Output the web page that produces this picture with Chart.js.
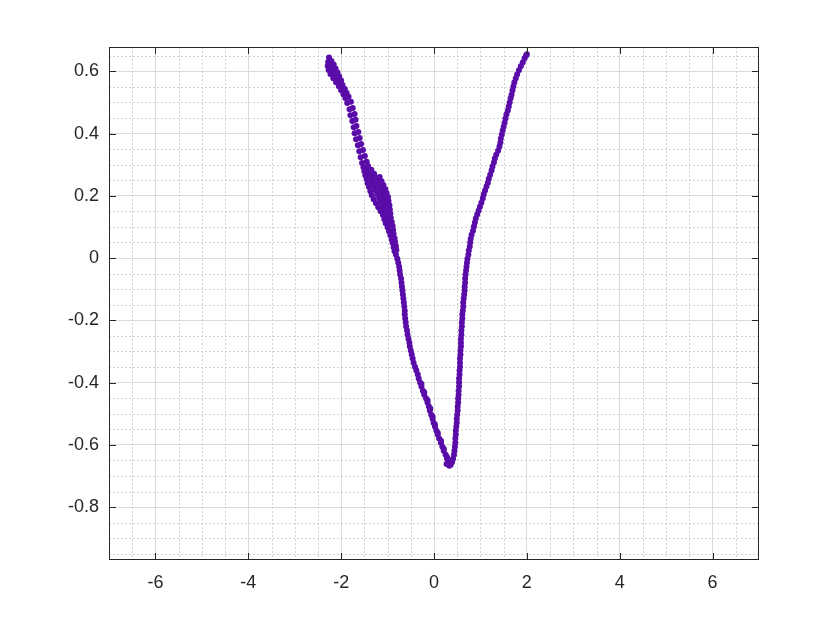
<!DOCTYPE html>
<html>
<head>
<meta charset="utf-8">
<script src="https://cdn.jsdelivr.net/npm/chart.js@4.4.1/dist/chart.umd.min.js"></script>
<style>
  html, body { margin: 0; padding: 0; background: #fff; }
  canvas { display: block; }
</style>
</head>
<body>
<canvas id="chart" width="840" height="630"></canvas>
<script>
const xRange = [-7, 7];
const yRange = [-0.97, 0.678];
const xTicks = [-6, -4, -2, 0, 2, 4, 6];
const xTickLabels = ["-6", "-4", "-2", "0", "2", "4", "6"];
const yTicks = [-0.8, -0.6, -0.4, -0.2, 0, 0.2, 0.4, 0.6];
const yTickLabels = ["-0.8", "-0.6", "-0.4", "-0.2", "0", "0.2", "0.4", "0.6"];

// trace: upper-left cluster, down the left branch,
// through the minimum, then up the right branch
const xValues = [
  -2.26,
  -2.28, -2.21,
  -2.29, -2.23, -2.16,
  -2.27, -2.19, -2.12,
  -2.23, -2.15, -2.08,
  -2.17, -2.10, -2.04,
  -2.11, -2.05, -2.00,
  -2.05, -1.97,
  -2.00, -1.92,
  -1.95, -1.88,
  -1.91, -1.84,
  -1.87, -1.79,
  -1.82, -1.75,
  -1.80, -1.71,
  -1.76, -1.69,
  -1.73, -1.67,
  -1.71, -1.63,
  -1.68, -1.60,
  -1.64, -1.57,
  -1.61, -1.53,
  -1.58, -1.49,
  -1.55, -1.45,
  -1.52, -1.42,
  -1.50, -1.42, -1.35,
  -1.48, -1.38, -1.29,
  -1.45, -1.35, -1.24, -1.17,
  -1.43, -1.32, -1.21, -1.13,
  -1.40, -1.29, -1.18, -1.09,
  -1.37, -1.26, -1.15, -1.05,
  -1.34, -1.22, -1.11, -1.02,
  -1.30, -1.18, -1.08, -0.99,
  -1.25, -1.14, -1.04, -0.98,
  -1.20, -1.10, -1.01, -0.96,
  -1.15, -1.06, -0.95,
  -1.10, -1.02, -0.94,
  -1.07, -1.00, -0.93,
  -1.04, -0.97, -0.91,
  -1.00, -0.89,
  -0.97, -0.88,
  -0.94, -0.87,
  -0.91, -0.85,
  -0.89, -0.84,
  -0.87, -0.82,
  -0.85, -0.81,
  -0.82, -0.79, -0.77, -0.75, -0.74,
  -0.73, -0.71, -0.70, -0.69, -0.68,
  -0.67, -0.66, -0.65, -0.64, -0.63,
  -0.63, -0.62, -0.61, -0.60, -0.58,
  -0.57, -0.55, -0.53, -0.52, -0.50,
  -0.48, -0.46, -0.44, -0.41, -0.38,
  -0.35, -0.33, -0.30, -0.27, -0.24,
  -0.21, -0.17, -0.14, -0.11, -0.09,
  -0.06, -0.03, -0.01, 0.02, 0.05,
  0.08, 0.11, 0.15, 0.18, 0.21,
  0.25, 0.28, 0.31,
  -0.27, -0.21, -0.14, -0.08, -0.03, 0.02, 0.08, 0.15, 0.21, 0.28,
  0.27, 0.33, 0.36,
  0.39, 0.41, 0.43, 0.44, 0.45,
  0.46, 0.46, 0.47, 0.47, 0.48,
  0.49, 0.49, 0.50, 0.51, 0.51,
  0.52, 0.52, 0.53, 0.53, 0.54,
  0.54, 0.54, 0.55, 0.55, 0.56,
  0.56, 0.56, 0.57, 0.57, 0.58,
  0.58, 0.58, 0.59, 0.59, 0.60,
  0.60, 0.61, 0.61, 0.62, 0.63,
  0.63, 0.64, 0.65, 0.66, 0.66,
  0.67, 0.67, 0.68, 0.69, 0.70,
  0.71, 0.72, 0.74, 0.75, 0.77,
  0.78, 0.79, 0.81, 0.84, 0.86,
  0.88, 0.90, 0.93, 0.96, 0.99,
  1.02, 1.05, 1.07, 1.10, 1.13,
  1.16, 1.18, 1.21, 1.24, 1.26,
  1.29, 1.31, 1.34, 1.38, 1.41,
  1.43, 1.44, 1.46, 1.48, 1.50,
  1.52, 1.54, 1.56, 1.59, 1.61,
  1.63, 1.65, 1.67, 1.69, 1.71,
  1.73, 1.76, 1.79, 1.83, 1.87,
  1.91, 1.95, 1.98, 2.00,
];
const yValues = [
  0.644,
  0.630, 0.633,
  0.617, 0.620, 0.622,
  0.604, 0.607, 0.609,
  0.591, 0.594, 0.596,
  0.578, 0.581, 0.583,
  0.565, 0.568, 0.570,
  0.552, 0.556,
  0.539, 0.543,
  0.526, 0.530,
  0.514, 0.518,
  0.498, 0.502,
  0.478, 0.482,
  0.459, 0.463,
  0.440, 0.444,
  0.420, 0.424,
  0.401, 0.405,
  0.382, 0.386,
  0.362, 0.366,
  0.343, 0.347,
  0.324, 0.328,
  0.305, 0.309,
  0.292, 0.296,
  0.279, 0.282, 0.284,
  0.266, 0.269, 0.271,
  0.253, 0.256, 0.258, 0.260,
  0.240, 0.243, 0.245, 0.247,
  0.228, 0.231, 0.233, 0.235,
  0.215, 0.218, 0.220, 0.222,
  0.202, 0.205, 0.207, 0.209,
  0.189, 0.192, 0.194, 0.196,
  0.176, 0.179, 0.181, 0.183,
  0.163, 0.166, 0.168, 0.170,
  0.150, 0.153, 0.156,
  0.138, 0.140, 0.142,
  0.125, 0.127, 0.129,
  0.112, 0.114, 0.116,
  0.099, 0.103,
  0.086, 0.090,
  0.073, 0.077,
  0.060, 0.064,
  0.048, 0.052,
  0.035, 0.039,
  0.022, 0.026,
  0.011, -0.002, -0.015, -0.028, -0.040,
  -0.053, -0.066, -0.079, -0.092, -0.104,
  -0.117, -0.130, -0.143, -0.156, -0.169,
  -0.181, -0.194, -0.207, -0.220, -0.233,
  -0.246, -0.259, -0.272, -0.284, -0.297,
  -0.310, -0.323, -0.336, -0.349, -0.361,
  -0.374, -0.387, -0.400, -0.413, -0.426,
  -0.439, -0.451, -0.464, -0.477, -0.490,
  -0.503, -0.516, -0.529, -0.541, -0.554,
  -0.567, -0.580, -0.593, -0.606, -0.619,
  -0.632, -0.645, -0.657,
  -0.405, -0.431, -0.457, -0.483, -0.509, -0.535, -0.561, -0.587, -0.613, -0.639,
  -0.662, -0.667, -0.664,
  -0.655, -0.645, -0.632, -0.619, -0.606,
  -0.593, -0.580, -0.567, -0.554, -0.541,
  -0.529, -0.516, -0.503, -0.490, -0.477,
  -0.464, -0.451, -0.439, -0.426, -0.413,
  -0.400, -0.387, -0.374, -0.361, -0.349,
  -0.336, -0.323, -0.310, -0.297, -0.284,
  -0.272, -0.259, -0.246, -0.233, -0.220,
  -0.207, -0.194, -0.181, -0.169, -0.156,
  -0.143, -0.130, -0.117, -0.104, -0.092,
  -0.079, -0.066, -0.053, -0.040, -0.028,
  -0.015, -0.002, 0.011, 0.024, 0.037,
  0.050, 0.062, 0.075, 0.088, 0.101,
  0.114, 0.127, 0.140, 0.152, 0.165,
  0.178, 0.191, 0.204, 0.217, 0.230,
  0.242, 0.255, 0.268, 0.281, 0.294,
  0.307, 0.320, 0.332, 0.345, 0.358,
  0.371, 0.384, 0.397, 0.410, 0.422,
  0.435, 0.448, 0.461, 0.474, 0.487,
  0.500, 0.513, 0.525, 0.538, 0.551,
  0.564, 0.577, 0.590, 0.603, 0.616,
  0.628, 0.641, 0.650, 0.655,
];

const axisColor = "#262626";
const tickFont = { family: "'Liberation Sans', Arial, sans-serif", size: 18 };

// dotted minor grid under the data, box with inward ticks on top
const matlabFrame = {
  id: "matlabFrame",
  beforeDatasetsDraw(chart) {
    const { ctx, chartArea: a, scales } = chart;
    const crisp = (v) => Math.round(v) + 0.5;
    ctx.save();
    ctx.strokeStyle = "#d2d2d2";
    ctx.lineWidth = 1;
    ctx.setLineDash([2, 2]);
    ctx.beginPath();
    for (let i = -13; i <= 13; i++) {
      if (i % 4 === 0) continue;
      const px = crisp(scales.x.getPixelForValue(i / 2));
      ctx.moveTo(px, a.top);
      ctx.lineTo(px, a.bottom);
    }
    for (let i = -19; i <= 13; i++) {
      if (i % 4 === 0) continue;
      const py = crisp(scales.y.getPixelForValue(i * 0.05));
      ctx.moveTo(a.left, py);
      ctx.lineTo(a.right, py);
    }
    ctx.stroke();
    ctx.restore();
  },
  afterDraw(chart) {
    const { ctx, chartArea: a, scales } = chart;
    const l = Math.round(a.left) + 0.5, r = Math.round(a.right) - 0.5;
    const t = Math.round(a.top) + 0.5, b = Math.round(a.bottom) - 0.5;
    const len = 6.5;
    ctx.save();
    ctx.strokeStyle = axisColor;
    ctx.lineWidth = 1;
    ctx.beginPath();
    xTicks.forEach((v) => {
      const px = Math.round(scales.x.getPixelForValue(v)) + 0.5;
      ctx.moveTo(px, b); ctx.lineTo(px, b - len);
      ctx.moveTo(px, t); ctx.lineTo(px, t + len);
    });
    yTicks.forEach((v) => {
      const py = Math.round(scales.y.getPixelForValue(v)) + 0.5;
      ctx.moveTo(l, py); ctx.lineTo(l + len, py);
      ctx.moveTo(r, py); ctx.lineTo(r - len, py);
    });
    ctx.stroke();
    ctx.strokeRect(l, t, r - l, b - t);
    ctx.restore();
  },
};

const ctx = document.getElementById("chart").getContext("2d");
new Chart(ctx, {
  type: "scatter",
  data: {
    datasets: [
      {
        data: xValues.map((x, i) => ({ x: x, y: yValues[i] })),
        backgroundColor: "#5a0ca8",
        borderWidth: 0,
        pointRadius: 3,
        pointHoverRadius: 3,
      },
    ],
  },
  options: {
    responsive: false,
    devicePixelRatio: 1,
    animation: false,
    layout: { padding: { top: 47, right: 81, left: 0, bottom: 0 } },
    plugins: { legend: { display: false }, tooltip: { enabled: false } },
    scales: {
      x: {
        type: "linear",
        min: xRange[0],
        max: xRange[1],
        afterBuildTicks: (s) => { s.ticks = xTicks.map((v) => ({ value: v })); },
        afterFit: (s) => { s.height = 70; },
        grid: { color: "#dcdcdc", lineWidth: 1, drawTicks: false },
        border: { display: false },
        ticks: {
          color: axisColor,
          font: tickFont,
          padding: 12,
          maxRotation: 0,
          callback: (v, i) => xTickLabels[i],
        },
      },
      y: {
        type: "linear",
        min: yRange[0],
        max: yRange[1],
        afterBuildTicks: (s) => { s.ticks = yTicks.map((v) => ({ value: v })); },
        afterFit: (s) => { s.width = 109; },
        grid: { color: "#dcdcdc", lineWidth: 1, drawTicks: false },
        border: { display: false },
        ticks: {
          color: axisColor,
          font: tickFont,
          padding: 10,
          callback: (v, i) => yTickLabels[i],
        },
      },
    },
  },
  plugins: [matlabFrame],
});
</script>
</body>
</html>
